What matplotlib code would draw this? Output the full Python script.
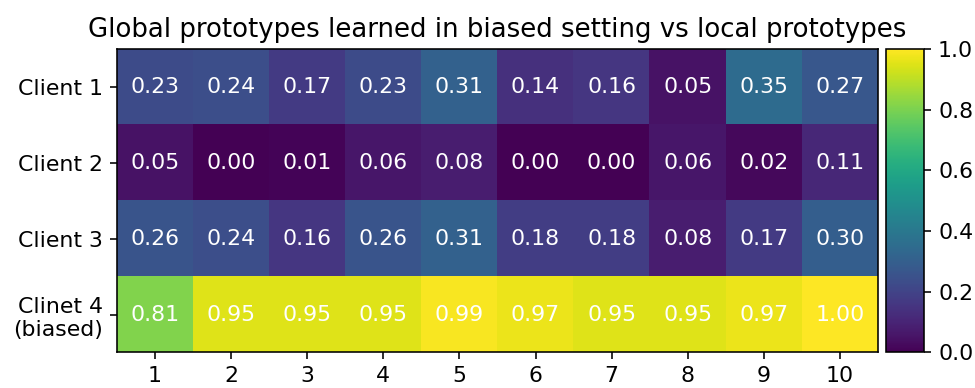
import numpy as np
import matplotlib
matplotlib.use("Agg")
import matplotlib.pyplot as plt

clients = ["Client 1", "Client 2", "Client 3", "Clinet 4\n(biased)"]
classes = ["1", "2", "3", "4", "5", "6", "7", "8", "9", "10"]

client1 = [0.23, 0.24, 0.17, 0.23, 0.31, 0.14, 0.16, 0.05, 0.35, 0.27]
client2 = [0.05, 0.00, 0.01, 0.06, 0.08, 0.00, 0.00, 0.06, 0.02, 0.11]
client3 = [0.26, 0.24, 0.16, 0.26, 0.31, 0.18, 0.18, 0.08, 0.17, 0.30]
client4 = [0.81, 0.95, 0.95, 0.95, 0.99, 0.97, 0.95, 0.95, 0.97, 1.00]

sim = np.array([client1, client2, client3, client4])

plt.rcParams['font.size'] = 11

fig = plt.figure(figsize=(975 / 144, 388 / 144), dpi=144)
ax = fig.add_axes([0.12, 0.0915, 0.7805, 0.782])
cax = fig.add_axes([0.9087, 0.0915, 0.039, 0.782])

im = ax.imshow(sim, cmap="viridis", vmin=0, vmax=1, aspect="auto")
fig.colorbar(im, cax=cax)

for i in range(sim.shape[0]):
    for j in range(sim.shape[1]):
        ax.text(j, i, f"{sim[i, j]:.2f}", ha="center", va="center", color="w")

ax.set_xticks(range(len(classes)))
ax.set_xticklabels(classes)
ax.set_yticks(range(len(clients)))
ax.set_yticklabels(clients)
ax.set_title("Global prototypes learned in biased setting vs local prototypes", fontsize=13)

fig.savefig("out.png", dpi=144)
